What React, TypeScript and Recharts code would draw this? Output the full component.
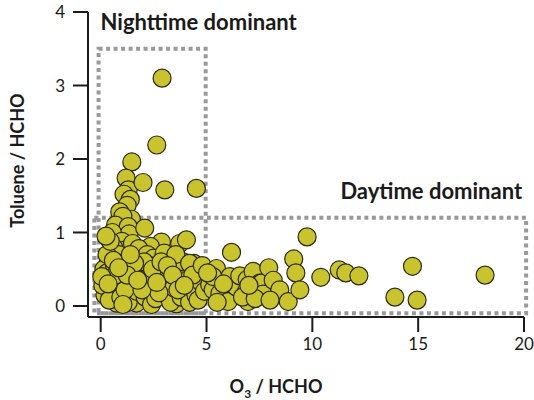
import { ScatterChart, Scatter, XAxis, YAxis, ReferenceArea } from 'recharts';

// O3/HCHO vs Toluene/HCHO
const nightPoints = [
  [2.9, 3.1], [2.65, 2.19], [1.47, 1.96], [1.2, 1.74], [1.3, 1.58], [2.0, 1.68], [3.03, 1.58], [4.52, 1.6],
  [1.1, 1.52], [1.4, 1.45], [1.25, 1.37], [0.9, 1.28], [1.45, 1.18], [1.05, 1.22], [0.7, 1.1], [1.3, 1.08],
  [0.75, 0.94], [1.34, 0.98], [2.08, 1.06], [0.55, 1.0], [1.0, 0.88],
];

const clusterPoints = [
  [2.87, 0.87], [3.73, 0.85], [4.05, 0.9], [1.13, 0.76], [2.35, 0.81], [3.34, 0.63], [0.35, 0.58], [1.69, 0.67],
  [2.71, 0.53], [4.05, 0.51], [0.9, 0.38], [2.0, 0.47], [2.79, 0.38], [3.73, 0.4], [1.37, 0.15], [2.63, 0.22],
  [4.02, 0.25], [0.74, 0.04], [1.69, 0.04], [3.58, 0.03], [0.19, 0.35], [0.27, 0.22], [0.43, 0.67], [0.6, 0.8],
  [0.85, 0.7], [1.5, 0.85], [1.8, 0.78], [2.2, 0.7], [2.5, 0.65], [3.0, 0.72], [3.5, 0.55], [4.4, 0.58],
  [4.7, 0.45], [0.15, 0.5], [0.2, 0.15], [0.3, 0.45], [0.5, 0.3], [0.55, 0.12], [0.65, 0.55], [0.8, 0.2],
  [1.0, 0.5], [1.1, 0.3], [1.2, 0.6], [1.3, 0.05], [1.5, 0.45], [1.55, 0.3], [1.7, 0.2], [1.8, 0.5],
  [1.9, 0.35], [2.1, 0.12], [2.2, 0.3], [2.3, 0.55], [2.4, 0.02], [2.5, 0.4], [2.6, 0.1], [2.9, 0.28],
  [3.0, 0.48], [3.1, 0.15], [3.2, 0.35], [3.3, 0.05], [3.45, 0.25], [3.6, 0.45], [3.8, 0.12], [3.9, 0.6],
  [4.1, 0.35], [4.2, 0.05], [4.3, 0.25], [4.5, 0.15], [4.6, 0.08], [4.75, 0.32], [4.9, 0.2], [0.1, 0.28],
  [0.4, 0.08], [0.95, 0.12], [1.15, 0.22], [0.7, 0.42], [2.05, 0.6], [2.75, 0.18], [3.55, 0.7], [1.6, 0.58],
  [0.3, 0.7], [0.05, 0.4], [4.2, 0.58], [0.45, 0.88], [0.25, 0.95], [0.6, 0.62], [1.25, 0.42], [1.4, 0.7],
  [1.95, 0.22], [2.45, 0.5], [2.85, 0.6], [3.15, 0.55], [3.4, 0.42], [3.65, 0.22], [4.35, 0.42], [4.8, 0.55],
  [0.85, 0.52], [1.75, 0.35], [2.65, 0.32], [3.95, 0.28], [0.35, 0.3], [1.05, 0.02],
];

const dayPoints = [
  [5.15, 0.29], [5.31, 0.22], [5.47, 0.51], [5.63, 0.17], [6.02, 0.06], [6.1, 0.4], [6.18, 0.73], [6.4, 0.26],
  [6.57, 0.41], [6.89, 0.2], [6.92, 0.36], [6.96, 0.06], [7.2, 0.47], [7.52, 0.31], [7.6, 0.31], [7.67, 0.16],
  [7.94, 0.52], [8.15, 0.35], [8.46, 0.22], [8.86, 0.06], [9.12, 0.64], [9.22, 0.45], [9.41, 0.22], [9.75, 0.94],
  [10.4, 0.39], [11.27, 0.49], [11.58, 0.45], [12.2, 0.41], [13.9, 0.12], [14.73, 0.54], [14.95, 0.08], [18.16, 0.42],
  [5.3, 0.4], [5.8, 0.3], [5.5, 0.05], [6.7, 0.12], [7.3, 0.1], [7.0, 0.28], [8.0, 0.08], [5.05, 0.45],
];

const xTicks = [0, 5, 10, 15, 20];
const yTicks = [0, 1, 2, 3, 4];

const data = [...nightPoints, ...clusterPoints, ...dayPoints].map(([x, y]) => ({ x, y }));

const FONT = 'Lato, "Open Sans", sans-serif';
const INK = '#1a1a1a';

const Dot = (props: any) => (
  <circle cx={props.cx} cy={props.cy} r={9} fill="#c9c42e" stroke="#2a2a1c" strokeWidth={1.2} />
);

const XLabel = (props: any) => {
  const vb = props.viewBox;
  return (
    <text x={vb.x + vb.width / 2 - 30} y={vb.y + 76} textAnchor="middle" fontFamily={FONT} fontWeight={700} fontSize={18} fill={INK}>
      O<tspan fontSize={12} dy={5}>3</tspan><tspan dy={-5}> / HCHO</tspan>
    </text>
  );
};

const NightLabel = (props: any) => {
  const vb = props.viewBox;
  return (
    <text x={vb.x + 2} y={vb.y - 19} fontFamily={FONT} fontWeight={700} fontSize={22} fill={INK}>
      Nighttime dominant
    </text>
  );
};

const DayLabel = (props: any) => {
  const vb = props.viewBox;
  return (
    <text x={vb.x + vb.width - 4} y={vb.y - 19} textAnchor="end" fontFamily={FONT} fontWeight={700} fontSize={22} fill={INK}>
      Daytime dominant
    </text>
  );
};

export default function App() {
  return (
    <div style={{ position: 'absolute', left: 0, top: 0, background: '#fff' }}>
      <ScatterChart width={534} height={400} margin={{ top: 12, right: 10, bottom: 0, left: 0 }}>
        <XAxis
          type="number"
          dataKey="x"
          domain={[-0.6, 20]}
          ticks={xTicks}
          tickSize={15}
          tickMargin={6}
          height={83}
          stroke={INK}
          strokeWidth={2}
          tick={{ fontFamily: FONT, fontSize: 17, fill: INK }}
          label={<XLabel />}
        />
        <YAxis
          type="number"
          dataKey="y"
          domain={[-0.15, 4]}
          ticks={yTicks}
          tickSize={15}
          tickMargin={8}
          width={88}
          stroke={INK}
          strokeWidth={2}
          tick={{ fontFamily: FONT, fontSize: 17, fill: INK }}
          label={{ value: 'Toluene / HCHO', angle: -90, position: 'insideLeft', offset: 18, dy: -4, style: { fontFamily: FONT, fontWeight: 700, fontSize: 18, fill: INK, textAnchor: 'middle' } }}
        />
        <Scatter data={data} shape={<Dot />} isAnimationActive={false} />
        <ReferenceArea x1={-0.1} x2={4.96} y1={-0.1} y2={3.5} ifOverflow="visible" fill="none" fillOpacity={0} stroke="#999" strokeWidth={4} strokeDasharray="4 3.5" label={<NightLabel />} />
        <ReferenceArea x1={-0.3} x2={20.1} y1={-0.1} y2={1.2} ifOverflow="visible" fill="none" fillOpacity={0} stroke="#999" strokeWidth={4} strokeDasharray="4 3.5" label={<DayLabel />} />
      </ScatterChart>
    </div>
  );
}
